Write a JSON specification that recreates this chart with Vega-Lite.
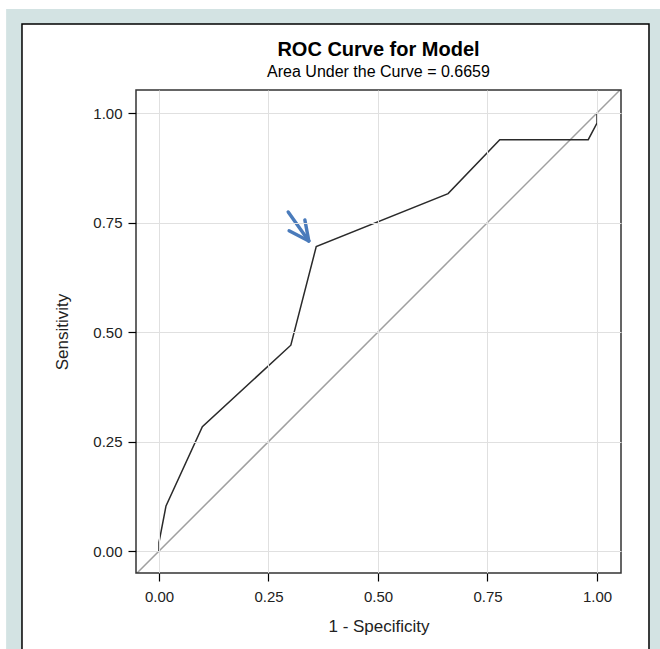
{
  "$schema": "https://vega.github.io/schema/vega-lite/v6.json",
  "autosize": {"type": "none"},
  "width": 485,
  "height": 483,
  "padding": {"left": 136, "top": 90, "right": 39, "bottom": 76},
  "background": "white",
  "title": {
    "text": "ROC Curve for Model",
    "subtitle": "Area Under the Curve = 0.6659",
    "anchor": "middle",
    "frame": "group",
    "font": "Liberation Sans",
    "fontSize": 20,
    "fontWeight": "bold",
    "color": "#000000",
    "subtitleFont": "Liberation Sans",
    "subtitleFontSize": 16,
    "subtitleColor": "#000000",
    "subtitlePadding": 4,
    "offset": -71,
    "zindex": 1
  },
  "config": {
    "font": "Liberation Sans",
    "view": {"stroke": null},
    "axis": {
      "grid": true,
      "gridColor": "#e0e0e0",
      "gridWidth": 1,
      "domain": false,
      "tickColor": "#000000",
      "tickSize": 8,
      "tickWidth": 1.2,
      "labelFont": "Liberation Sans",
      "labelFontSize": 15,
      "labelColor": "#222222",
      "titleFont": "Liberation Sans",
      "titleFontSize": 17,
      "titleFontWeight": "normal",
      "titleColor": "#222222"
    }
  },
  "layer": [
    {
      "data": {"values": [{}]},
      "mark": {"type": "rect", "fill": "#d3e3e3"},
      "encoding": {
        "x": {"datum": -0.349, "type": "quantitative", "scale": {"domain": [-0.0525, 1.0548], "nice": false, "zero": false}},
        "x2": {"datum": 1.2},
        "y": {"datum": 1.2374, "type": "quantitative", "scale": {"domain": [-0.05, 1.0525], "nice": false, "zero": false}},
        "y2": {"datum": -0.3}
      }
    },
    {
      "data": {"values": [{}]},
      "mark": {"type": "rect", "fill": "white", "stroke": "#000000", "strokeWidth": 1.5},
      "encoding": {
        "x": {"datum": -0.3128, "type": "quantitative"},
        "x2": {"datum": 1.1187},
        "y": {"datum": 1.2032, "type": "quantitative"},
        "y2": {"datum": -0.3}
      }
    },
    {
      "data": {"values": [{"fpr": -0.06, "tpr": -0.06}, {"fpr": 1.06, "tpr": 1.06}]},
      "mark": {"type": "line", "color": "#a0a0a0", "strokeWidth": 1.5, "clip": true},
      "encoding": {
        "x": {"field": "fpr", "type": "quantitative", "title": "1 - Specificity",
              "axis": {"zindex": 1, "values": [0, 0.25, 0.5, 0.75, 1], "format": ".2f", "labelPadding": 8, "titlePadding": 14}},
        "y": {"field": "tpr", "type": "quantitative", "title": "Sensitivity",
              "axis": {"zindex": 1, "values": [0, 0.25, 0.5, 0.75, 1], "format": ".2f", "labelPadding": 6, "titlePadding": 21}}
      }
    },
    {
      "data": {"values": [
        {"order": 1, "fpr": 0.0, "tpr": 0.0},
        {"order": 2, "fpr": 0.0, "tpr": 0.02},
        {"order": 3, "fpr": 0.016, "tpr": 0.103},
        {"order": 4, "fpr": 0.099, "tpr": 0.284},
        {"order": 5, "fpr": 0.301, "tpr": 0.47},
        {"order": 6, "fpr": 0.359, "tpr": 0.695},
        {"order": 7, "fpr": 0.66, "tpr": 0.816},
        {"order": 8, "fpr": 0.778, "tpr": 0.939},
        {"order": 9, "fpr": 0.98, "tpr": 0.939},
        {"order": 10, "fpr": 1.0, "tpr": 0.977},
        {"order": 11, "fpr": 1.0, "tpr": 1.0}
      ]},
      "mark": {"type": "line", "color": "#2a2a2a", "strokeWidth": 1.5},
      "encoding": {
        "x": {"field": "fpr", "type": "quantitative"},
        "y": {"field": "tpr", "type": "quantitative"},
        "order": {"field": "order", "type": "quantitative"}
      }
    },
    {
      "data": {"values": [
        {"x1": 0.295, "y1": 0.774, "x2": 0.342, "y2": 0.708},
        {"x1": 0.297, "y1": 0.731, "x2": 0.342, "y2": 0.708},
        {"x1": 0.333, "y1": 0.756, "x2": 0.342, "y2": 0.708}
      ]},
      "mark": {"type": "rule", "color": "#4a7bbb", "strokeWidth": 3.4, "strokeCap": "round"},
      "encoding": {
        "x": {"field": "x1", "type": "quantitative"},
        "y": {"field": "y1", "type": "quantitative"},
        "x2": {"field": "x2"},
        "y2": {"field": "y2"}
      }
    },
    {
      "data": {"values": [{}]},
      "mark": {"type": "rect", "fill": null, "stroke": "#333333", "strokeWidth": 1.5},
      "encoding": {
        "x": {"datum": -0.0525, "type": "quantitative"},
        "x2": {"datum": 1.0548},
        "y": {"datum": 1.0525, "type": "quantitative"},
        "y2": {"datum": -0.05}
      }
    }
  ]
}
